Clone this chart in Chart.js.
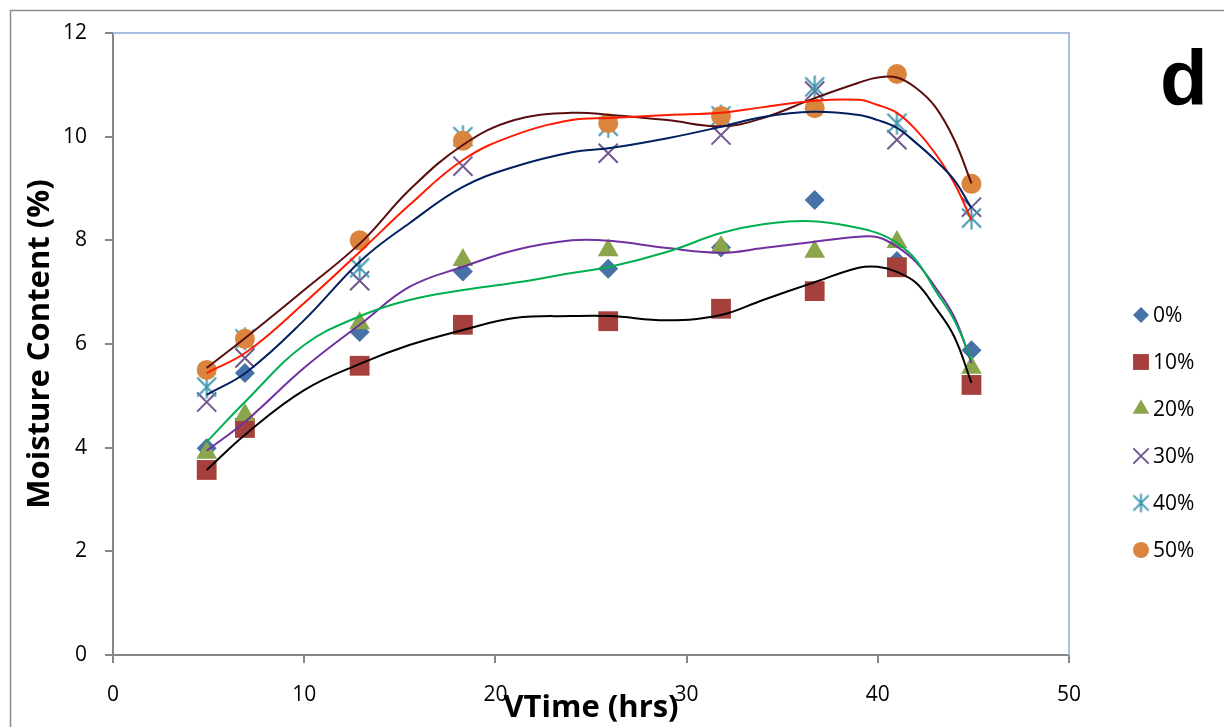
<!DOCTYPE html>
<html><head><meta charset="utf-8">
<script src="https://cdn.jsdelivr.net/npm/chart.js@4.4.1/dist/chart.umd.min.js"></script>
<style>html,body{margin:0;padding:0;background:#fff;overflow:hidden}canvas{display:block}</style>
</head><body>
<canvas id="c" width="1224" height="727"></canvas>
<script>
// ---------- data ----------
const seriesNames = ['0%', '10%', '20%', '30%', '40%', '50%'];
const timeHrs = [4.9, 6.9, 12.9, 18.3, 25.9, 31.8, 36.7, 41, 44.9];
const mc0  = [3.99, 5.44, 6.23, 7.40, 7.45, 7.86, 8.78, 7.60, 5.88];
const mc10 = [3.57, 4.38, 5.58, 6.37, 6.44, 6.68, 7.02, 7.48, 5.21];
const mc20 = [3.90, 4.63, 6.40, 7.62, 7.81, 7.87, 7.78, 7.97, 5.54];
const mc30 = [4.88, 5.73, 7.22, 9.43, 9.68, 10.03, 10.88, 9.94, 8.64];
const mc40 = [5.17, 6.10, 7.47, 10.00, 10.20, 10.40, 10.96, 10.26, 8.43];
const mc50 = [5.50, 6.10, 8.00, 9.92, 10.26, 10.40, 10.55, 11.21, 9.09];

// trend curves
const trendX  = [4.9, 7, 10, 13, 15.5, 18.3, 21, 24, 26, 29, 31.8, 34, 36.6, 39, 40, 41, 42, 43, 44, 44.9];
const trend0  = [4.11, 4.92, 5.98, 6.55, 6.85, 7.04, 7.18, 7.37, 7.49, 7.78, 8.14, 8.31, 8.37, 8.24, 8.14, 7.95, 7.62, 7.04, 6.46, 5.69];
const trend10 = [3.57, 4.28, 5.11, 5.63, 5.98, 6.27, 6.50, 6.54, 6.54, 6.46, 6.56, 6.85, 7.18, 7.47, 7.49, 7.39, 7.18, 6.71, 6.14, 5.25];
const trend20 = [3.94, 4.53, 5.54, 6.40, 7.10, 7.49, 7.81, 8.00, 7.99, 7.85, 7.76, 7.85, 7.97, 8.07, 8.06, 7.88, 7.58, 7.10, 6.52, 5.63];
const trend30 = [5.02, 5.46, 6.46, 7.62, 8.33, 9.03, 9.42, 9.70, 9.78, 9.97, 10.19, 10.38, 10.48, 10.42, 10.32, 10.17, 9.88, 9.55, 9.16, 8.62];
const trend40 = [5.44, 5.85, 6.79, 7.81, 8.68, 9.55, 10.03, 10.32, 10.36, 10.42, 10.46, 10.57, 10.69, 10.71, 10.61, 10.46, 10.13, 9.68, 9.10, 8.39];
const trend50 = [5.54, 6.14, 7.04, 7.97, 8.97, 9.84, 10.32, 10.46, 10.42, 10.32, 10.20, 10.36, 10.73, 11.04, 11.14, 11.14, 10.94, 10.58, 9.94, 9.10];

const xMin = 0, xMax = 50, xStep = 10;
const yMin = 0, yMax = 12, yStep = 2;
const xTitle = 'VTime (hrs)';
const yTitle = 'Moisture Content (%)';
const panelLetter = 'd';

// ---------- styles ----------
const markerValues = [mc0, mc10, mc20, mc30, mc40, mc50];
const trendValues = [trend0, trend10, trend20, trend30, trend40, trend50];
const markerColors = ['#4672A8', '#A5403D', '#8BA54A', '#71588F', '#4198AF', '#DB843D'];
const trendColors = ['#00B050', '#000000', '#7030A0', '#002060', '#FF1A00', '#5A0E0E'];

function makeAsterisk(scale, color) {
  const hx = 9.5 * scale, hv = 11.5 * scale;
  const s = Math.ceil(2 * hv + 4);
  const cv = document.createElement('canvas');
  cv.width = s; cv.height = s;
  const g = cv.getContext('2d');
  g.strokeStyle = color; g.lineWidth = 2; g.lineCap = 'butt';
  const c = s / 2;
  g.beginPath();
  g.moveTo(c - hx, c - hx); g.lineTo(c + hx, c + hx);
  g.moveTo(c + hx, c - hx); g.lineTo(c - hx, c + hx);
  g.moveTo(c, c - hv); g.lineTo(c, c + hv);
  g.stroke();
  return cv;
}
const asteriskBig = makeAsterisk(1, markerColors[4]);
const asteriskSmall = makeAsterisk(0.8, markerColors[4]);

const markerStyles = [
  { pointStyle: 'rectRot', radius: 10, borderWidth: 0 },
  { pointStyle: 'rect', radius: 14, borderWidth: 0 },
  { pointStyle: 'triangle', radius: 12, borderWidth: 0 },
  { pointStyle: 'crossRot', radius: 13.5, borderWidth: 2 },
  { pointStyle: asteriskBig, radius: 12, borderWidth: 0 },
  { pointStyle: 'circle', radius: 10, borderWidth: 0 }
];

const datasets = [];
trendValues.forEach((vals, i) => {
  datasets.push({
    label: 'trend ' + seriesNames[i],
    data: trendX.map((x, k) => ({ x: x, y: vals[k] })),
    showLine: true, borderColor: trendColors[i], borderWidth: 2,
    pointRadius: 0, pointHoverRadius: 0, tension: 0.4, fill: false,
    order: 0
  });
});
markerValues.forEach((vals, i) => {
  const st = markerStyles[i];
  datasets.push({
    label: seriesNames[i],
    data: timeHrs.map((x, k) => ({ x: x, y: vals[k] })),
    showLine: false,
    pointStyle: st.pointStyle, pointRadius: st.radius, pointHoverRadius: st.radius,
    pointBorderWidth: st.borderWidth,
    backgroundColor: markerColors[i], borderColor: markerColors[i],
    pointBackgroundColor: markerColors[i], pointBorderColor: markerColors[i],
    order: 6 - i
  });
});

const tickFont = { family: 'Open Sans', size: 21 };
const titleFont = { family: 'Open Sans', size: 31, weight: 'bold' };

const decor = {
  id: 'decor',
  beforeDraw(chart) {
    const c = chart.ctx; c.save(); c.fillStyle = '#fff'; c.fillRect(0, 0, chart.width, chart.height); c.restore();
  },
  afterDraw(chart) {
    const c = chart.ctx, a = chart.chartArea;
    c.save();
    c.strokeStyle = '#A9BEE4'; c.lineWidth = 2;
    c.beginPath(); c.moveTo(a.left, a.top); c.lineTo(a.right, a.top); c.lineTo(a.right, a.bottom); c.stroke();
    c.strokeStyle = '#8c8c8c'; c.lineWidth = 1.5;
    c.beginPath(); c.moveTo(10.5, chart.height); c.lineTo(10.5, 10.5); c.lineTo(chart.width, 10.5); c.stroke();
    // legend
    const lx = 1141, ly0 = 315, dy = 47;
    seriesNames.forEach((name, i) => {
      const y = ly0 + i * dy;
      const st = markerStyles[i];
      c.fillStyle = markerColors[i]; c.strokeStyle = markerColors[i]; c.lineWidth = st.borderWidth || 0;
      const ps = (i === 4) ? asteriskSmall : st.pointStyle;
      if (Chart.helpers && Chart.helpers.drawPoint) {
        Chart.helpers.drawPoint(c, { pointStyle: ps, radius: st.radius * 0.8, borderWidth: st.borderWidth, rotation: 0 }, lx, y);
      }
      c.fillStyle = '#000';
      c.font = '21px "Open Sans"'; c.textAlign = 'left'; c.textBaseline = 'middle';
      c.fillText(name, 1153, y + 1);
    });
    c.font = 'bold 78px "Liberation Sans"'; c.fillStyle = '#000'; c.textAlign = 'left'; c.textBaseline = 'alphabetic';
    c.fillText(panelLetter, 1160, 105);
    c.restore();
  }
};

new Chart(document.getElementById('c'), {
  type: 'scatter',
  data: { datasets: datasets },
  options: {
    responsive: false, animation: false, devicePixelRatio: 1,
    layout: { padding: { left: 0, top: 33, right: 155, bottom: 0 } },
    plugins: { legend: { display: false }, tooltip: { enabled: false } },
    events: [],
    scales: {
      x: {
        type: 'linear', min: xMin, max: xMax,
        ticks: { stepSize: xStep, font: tickFont, color: '#000', padding: 19, maxRotation: 0 },
        grid: { drawOnChartArea: false, tickLength: 8, color: '#868686', lineWidth: 2 },
        border: { color: '#868686', width: 2 },
        title: { display: true, text: xTitle, font: titleFont, color: '#000', padding: { top: 0, bottom: 0 } },
        afterFit(s) { s.height = 72; }
      },
      y: {
        type: 'linear', min: yMin, max: yMax,
        ticks: { stepSize: yStep, font: tickFont, color: '#000', padding: 18 },
        grid: { drawOnChartArea: false, tickLength: 8, color: '#868686', lineWidth: 2 },
        border: { color: '#868686', width: 2 },
        title: { display: true, text: yTitle, font: titleFont, color: '#000', padding: { top: 22, bottom: 0 } },
        afterFit(s) { s.width = 113; }
      }
    }
  },
  plugins: [decor]
});
</script>
</body></html>
